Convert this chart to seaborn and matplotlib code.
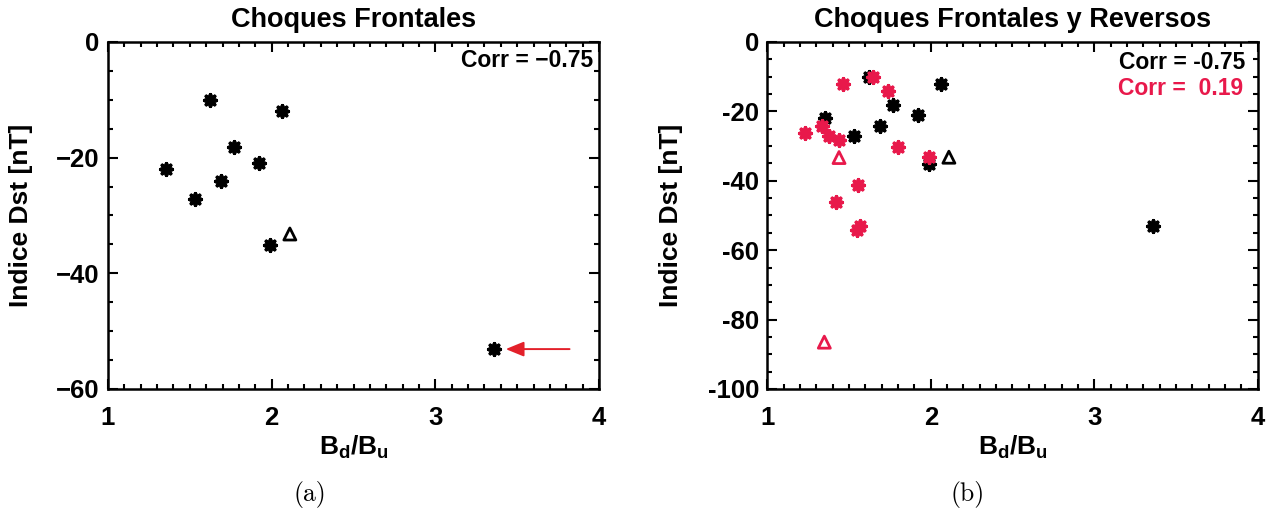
import numpy as np
import pandas as pd
import matplotlib
matplotlib.use("Agg")
import matplotlib.pyplot as plt
from matplotlib.ticker import MultipleLocator, FuncFormatter
import seaborn as sns

# ---------------- data ----------------
# Frontal shocks (black): asterisks
front_x = [1.354, 1.531, 1.625, 1.692, 1.772, 1.922, 1.992, 2.061, 3.360]
front_y = [-22.0, -27.1, -10.0, -24.1, -18.1, -21.0, -35.1, -12.0, -53.1]
# Frontal shock (black): triangle
front_tri_x = [2.111]
front_tri_y = [-33.2]
# Reverse shocks (red): asterisks
rev_x = [1.461, 1.648, 1.738, 1.336, 1.229, 1.377, 1.439, 1.797, 1.989,
         1.557, 1.420, 1.547, 1.567]
rev_y = [-12.1, -10.0, -14.1, -24.1, -26.1, -27.2, -28.1, -30.2, -33.1,
         -41.1, -46.2, -54.1, -52.9]
# Reverse shocks (red): triangles
rev_tri_x = [1.439, 1.349]
rev_tri_y = [-33.3, -86.5]

titles = ["Choques Frontales", "Choques Frontales y Reversos"]
captions = ["(a)", "(b)"]
corr_front = "Corr = \u22120.75"
corr_front_b = "Corr = -0.75"
corr_rev = "Corr =  0.19"

RED = "#E8194B"

# ---------------- style ----------------
sns.set_style("ticks")
plt.rcParams["font.family"] = ["Liberation Sans", "DejaVu Sans"]
plt.rcParams["font.weight"] = "bold"
plt.rcParams["mathtext.fontset"] = "custom"
plt.rcParams["mathtext.rm"] = "Liberation Sans:bold"
plt.rcParams["mathtext.it"] = "Liberation Sans:bold"
plt.rcParams["mathtext.bf"] = "Liberation Sans:bold"
for key in ["text.color", "axes.labelcolor", "xtick.color", "ytick.color",
            "axes.edgecolor"]:
    plt.rcParams[key] = "black"

fig = plt.figure(figsize=(12.68, 5.14), dpi=100)
axA = fig.add_axes([0.0852, 0.2432, 0.3872, 0.6751])
axB = fig.add_axes([0.6051, 0.2432, 0.3868, 0.6751])

df_front = pd.DataFrame({"x": front_x, "y": front_y})
df_front_tri = pd.DataFrame({"x": front_tri_x, "y": front_tri_y})
df_rev = pd.DataFrame({"x": rev_x, "y": rev_y})
df_rev_tri = pd.DataFrame({"x": rev_tri_x, "y": rev_tri_y})

AST = (8, 2, 0)


def draw_front(ax):
    sns.scatterplot(data=df_front, x="x", y="y", ax=ax, marker=AST, s=70,
                    color="black", linewidth=2.6, zorder=3)
    sns.scatterplot(data=df_front_tri, x="x", y="y", ax=ax, marker="^", s=75,
                    color="black", facecolor="none", edgecolor="black",
                    linewidth=2.0, zorder=3)


def draw_rev(ax):
    sns.scatterplot(data=df_rev, x="x", y="y", ax=ax, marker=AST, s=70,
                    color=RED, linewidth=2.6, zorder=4)
    sns.scatterplot(data=df_rev_tri, x="x", y="y", ax=ax, marker="^", s=75,
                    color=RED, facecolor="none", edgecolor=RED,
                    linewidth=2.0, zorder=4)


draw_front(axA)
draw_front(axB)
draw_rev(axB)


def style_axis(ax, ylim, unicode_minus, ylabel_x):
    ax.set_xlim(1, 4)
    ax.set_ylim(*ylim)
    ax.xaxis.set_major_locator(MultipleLocator(1))
    ax.xaxis.set_minor_locator(MultipleLocator(0.1))
    ax.yaxis.set_major_locator(MultipleLocator(20))
    ax.yaxis.set_minor_locator(MultipleLocator(5))
    if unicode_minus:
        fmt = FuncFormatter(lambda v, p: f"{v:g}".replace("-", "\u2212"))
    else:
        fmt = FuncFormatter(lambda v, p: f"{v:g}")
    ax.yaxis.set_major_formatter(fmt)
    ax.xaxis.set_major_formatter(FuncFormatter(lambda v, p: f"{v:g}"))
    ax.tick_params(which="both", direction="in", top=True, right=True,
                   width=1.5, labelsize=18.5, colors="black")
    ax.tick_params(which="major", length=7.5)
    ax.tick_params(which="minor", length=3.5)
    ax.tick_params(axis="x", which="major", pad=12)
    ax.tick_params(axis="y", which="major", pad=6)
    for lab in ax.get_xticklabels() + ax.get_yticklabels():
        lab.set_fontweight("bold")
    for sp in ax.spines.values():
        sp.set_linewidth(1.8)
        sp.set_color("black")
        sp.set_visible(True)
    ax.set_xlabel(r"$\mathbf{B_d/B_u}$", fontsize=19)
    ax.set_ylabel("Indice Dst [nT]", fontsize=19, fontweight="bold")
    ax.xaxis.set_label_coords(0.5, -0.13)
    ax.yaxis.set_label_coords(ylabel_x, 0.5)


style_axis(axA, (-60, 0), True, -0.153)
style_axis(axB, (-100, 0), False, -0.172)

for ax, t in zip([axA, axB], titles):
    ax.set_title(t, fontsize=19.5, fontweight="bold", pad=11)

axA.text(0.988, 0.948, corr_front, transform=axA.transAxes, ha="right",
         va="center", fontsize=16.5, fontweight="bold", color="black")
axB.text(0.974, 0.942, corr_front_b, transform=axB.transAxes, ha="right",
         va="center", fontsize=16.5, fontweight="bold", color="black")
axB.text(0.970, 0.867, corr_rev, transform=axB.transAxes, ha="right",
         va="center", fontsize=16.5, fontweight="bold", color=RED)

# red arrow pointing to the outlier in panel (a)
ox, oy = front_x[-1], front_y[-1]
axA.annotate("", xy=(ox + 0.07, oy), xytext=(ox + 0.46, oy),
             arrowprops=dict(arrowstyle="-|>,head_length=1.1,head_width=0.45",
                             color="#E3202A", lw=1.4, shrinkA=0, shrinkB=0))

for xpos, cap in zip([0.2445, 0.763], captions):
    fig.text(xpos, 0.037, cap, ha="center", va="center", fontsize=18.5,
             family="cmr10", fontweight="normal")

fig.savefig("out.png", dpi=100)
